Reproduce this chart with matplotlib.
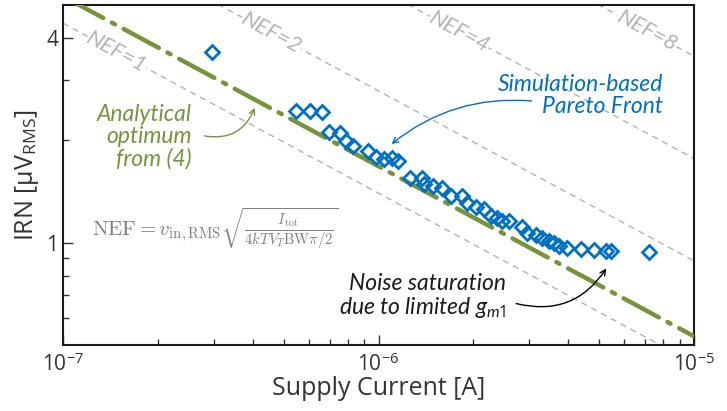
import numpy as np
import matplotlib
matplotlib.use("Agg")
import matplotlib.pyplot as plt
from matplotlib.ticker import LogLocator, NullFormatter

# simulated pareto front: supply current [A], input referred noise [uV rms]
current = [0.296e-6, 0.546e-6, 0.605e-6, 0.660e-6, 0.695e-6, 0.753e-6, 0.786e-6,
           0.833e-6, 0.923e-6, 0.985e-6, 1.04e-6, 1.10e-6, 1.15e-6, 1.26e-6,
           1.37e-6, 1.39e-6, 1.49e-6, 1.59e-6, 1.70e-6, 1.84e-6, 1.91e-6,
           2.04e-6, 2.16e-6, 2.28e-6, 2.38e-6, 2.47e-6, 2.60e-6, 2.84e-6,
           2.96e-6, 3.16e-6, 3.30e-6, 3.48e-6, 3.61e-6, 3.74e-6, 3.96e-6,
           4.39e-6, 4.83e-6, 5.27e-6, 5.46e-6, 7.20e-6]
irn = [3.64, 2.44, 2.44, 2.42, 2.12, 2.10, 1.99,
       1.93, 1.86, 1.79, 1.76, 1.78, 1.74, 1.55,
       1.55, 1.49, 1.47, 1.45, 1.37, 1.37, 1.31,
       1.27, 1.26, 1.20, 1.18, 1.16, 1.16, 1.11,
       1.07, 1.05, 1.03, 1.01, 1.00, 0.98, 0.967,
       0.96, 0.954, 0.945, 0.945, 0.941]

# NEF reference lines
nef_values = [1, 2, 4, 8]
nef_label_current = [1.48e-7, 4.58e-7, 1.80e-6, 7.11e-6]
irn_nef1_at_100n = 4.42   # uV at 1e-7 A for NEF = 1
nef_opt = 1.2             # analytical optimum from (4)
line_current = [1e-7, 1e-5]

blue = "#0070C0"
green = "#77933C"
grey = "#b3b3b3"

plt.rcParams["font.family"] = ["Open Sans", "DejaVu Sans"]
plt.rcParams["mathtext.fontset"] = "custom"
plt.rcParams["mathtext.rm"] = "Open Sans"
plt.rcParams["mathtext.it"] = "Lato:italic"

fig = plt.figure(figsize=(7.27, 4.11), dpi=100)
ax = fig.add_axes([63 / 727, 1 - 345 / 411, 631 / 727, 340 / 411])
ax.set_xscale("log")
ax.set_yscale("log")
ax.set_xlim(1e-7, 1e-5)
ax.set_ylim(0.5, 5)

lc = np.array(line_current)
for nef, xl in zip(nef_values, nef_label_current):
    ax.plot(lc, nef * irn_nef1_at_100n * np.sqrt(1e-7 / lc), color=grey, lw=1,
            dashes=(4.5, 3.5), zorder=1)
    p1 = ax.transData.transform((xl, nef * irn_nef1_at_100n * np.sqrt(1e-7 / xl)))
    p2 = ax.transData.transform((xl * 2, nef * irn_nef1_at_100n * np.sqrt(1e-7 / (xl * 2))))
    ang = np.degrees(np.arctan2(p2[1] - p1[1], p2[0] - p1[0]))
    ax.text(xl, nef * irn_nef1_at_100n * np.sqrt(1e-7 / xl), "NEF=%d" % nef,
            rotation=ang, rotation_mode="anchor", ha="center", va="center",
            color=grey, fontsize=16, family="Lato", style="italic",
            zorder=2, bbox=dict(facecolor="white", edgecolor="none", pad=0.5))

ax.plot(lc, nef_opt * irn_nef1_at_100n * np.sqrt(1e-7 / lc), color=green, lw=3.2,
        dashes=(9, 2.2, 0.8, 2.2), dash_capstyle="round", zorder=3)

ax.plot(current, irn, ls="none", marker="D", ms=7.2, mfc="none", mec=blue, mew=2,
        zorder=4)

# annotations
txt = dict(fontsize=16.5, family="Lato", style="italic", linespacing=1.05)
ax.text(2.56e-7, 2.05, "Analytical\noptimum\nfrom (4)", ha="right", va="center",
        color=green, **txt)
ax.annotate("", xy=(4.05e-7, 2.49), xytext=(2.81e-7, 2.06),
            arrowprops=dict(arrowstyle="->", color=green, lw=1,
                            connectionstyle="arc3,rad=0.4", shrinkA=0, shrinkB=0))

ax.text(8.0e-6, 2.71, "Simulation-based\nPareto Front", ha="right", va="center",
        color=blue, **txt)
ax.annotate("", xy=(1.10e-6, 1.95), xytext=(3.06e-6, 2.61),
            arrowprops=dict(arrowstyle="->", color=blue, lw=1,
                            connectionstyle="arc3,rad=0.2", shrinkA=0, shrinkB=0))

ax.text(2.54e-6, 0.696, "Noise saturation\ndue to limited $\\mathit{g_{m1}}$",
        ha="right", va="center", color="#1a1a1a", **txt)
ax.annotate("", xy=(5.27e-6, 0.839), xytext=(2.73e-6, 0.662),
            arrowprops=dict(arrowstyle="->", color="black", lw=1,
                            connectionstyle="arc3,rad=0.35", shrinkA=0, shrinkB=0))

ax.text(1.24e-7, 1.10,
        r"$\mathrm{NEF} = v_{\mathrm{in,RMS}}\sqrt{\frac{I_{\mathrm{tot}}}{4kTV_T\mathrm{BW}\pi/2}}$",
        ha="left", va="center", color="#7f7f7f", fontsize=15, math_fontfamily="cm")

# axes styling
ax.set_xticks([1e-7, 1e-6, 1e-5])
ax.set_xticklabels(["$10^{-7}$", "$10^{-6}$", "$10^{-5}$"])
ax.xaxis.set_minor_locator(LogLocator(base=10, subs=np.arange(2, 10), numticks=20))
ax.xaxis.set_minor_formatter(NullFormatter())
ax.set_yticks([1, 4])
ax.set_yticklabels(["1", "4"])
ax.set_yticks([0.6, 0.7, 0.8, 0.9, 2, 3], minor=True)
ax.yaxis.set_minor_formatter(NullFormatter())
ax.tick_params(which="both", direction="in", top=False, right=False,
               labelsize=15, colors="#333333", labelcolor="#333333")
ax.tick_params(which="major", length=7, width=1)
ax.tick_params(which="minor", length=4, width=1)
ax.tick_params(axis="x", pad=6)
for s in ax.spines.values():
    s.set_linewidth(1.5)
    s.set_color("#1a1a1a")

ax.set_xlabel("Supply Current [A]", fontsize=18, color="#333333", labelpad=0)
ax.set_ylabel("IRN [µV$_{\\mathrm{RMS}}$]", fontsize=18, color="#333333", labelpad=4)

fig.savefig("out.png", dpi=100)
